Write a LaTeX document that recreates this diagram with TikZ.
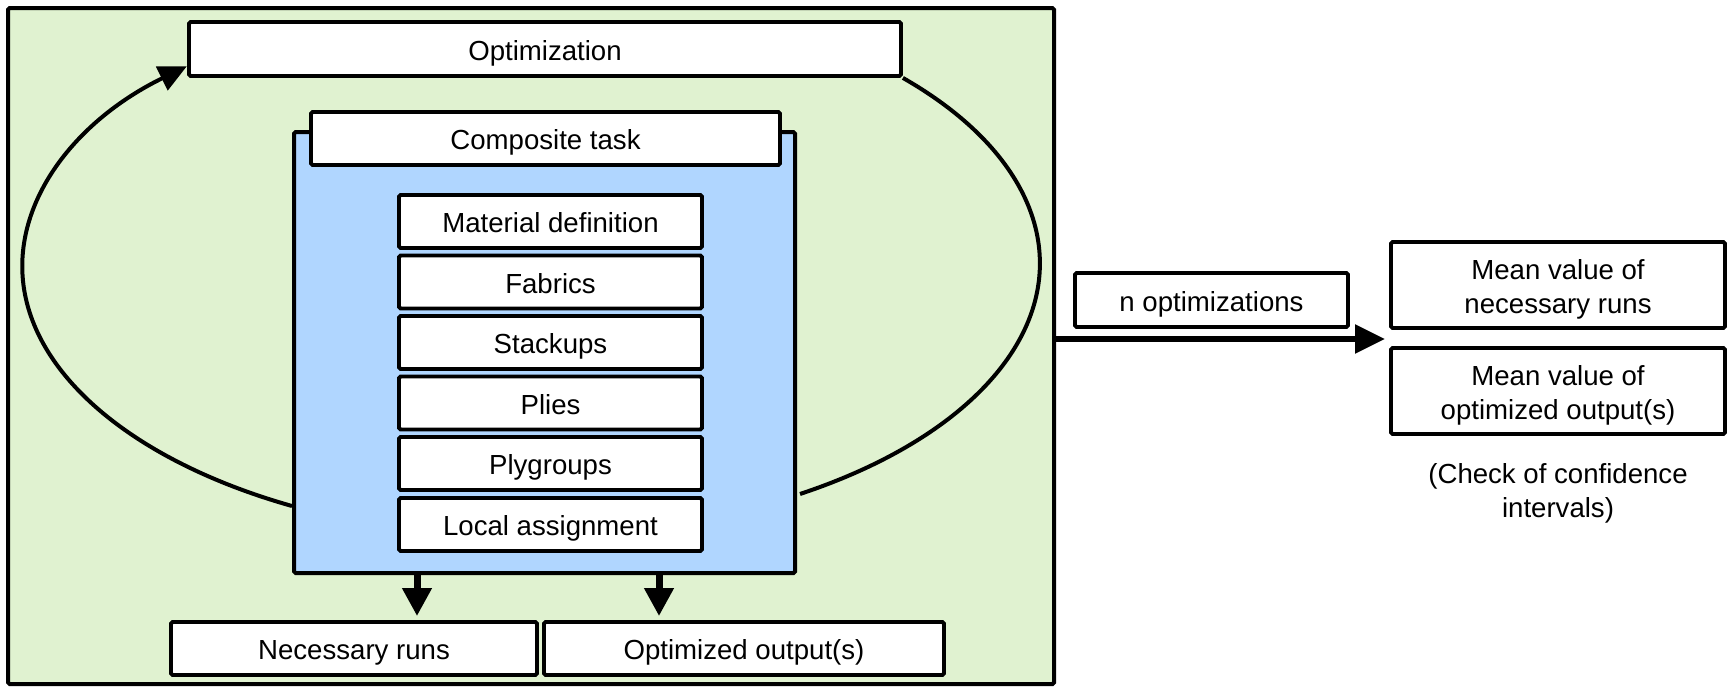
\documentclass[tikz,border=0pt]{standalone}
\usepackage{fontspec}
\setmainfont{Liberation Sans}
\usetikzlibrary{arrows.meta,calc}
\definecolor{outergreen}{RGB}{224,242,208}
\definecolor{taskblue}{RGB}{176,214,255}
\pgfdeclarelayer{back}
\pgfdeclarelayer{loop}
\pgfsetlayers{back,loop,main}
\tikzset{
  txt/.style={inner sep=0pt, font=\fontsize{13.8}{17}\selectfont, align=center},
  box/.style={txt, draw=black, line width=1.9pt, fill=white, rounded corners=0.8pt},
  oneline/.style={text height=11pt, text depth=0pt},
  twoline/.style={text height=28pt, text depth=0pt},
  frame/.style={draw=black, line width=2pt, rounded corners=0.8pt, inner sep=0pt},
  loopline/.style={line width=2pt},
  downtip/.style={-{Triangle[length=14pt,width=14pt]}, line width=3.5pt},
  righttip/.style={-{Triangle[length=15pt,width=14pt]}, line width=2.8pt},
}
\begin{document}
\begin{tikzpicture}[x=0.5pt,y=-0.5pt]
\useasboundingbox (0,0) rectangle (1727,687);

% outer frame of one optimization run
\begin{pgfonlayer}{back}
\node[frame, fill=outergreen, minimum width=523pt, minimum height=338pt] (outer) at (531,346) {};
\end{pgfonlayer}

\node[box, oneline, minimum width=356pt, minimum height=27pt] (opt) at (545,49) {Optimization};

% composite task with its steps
\node[frame, fill=taskblue, minimum width=250.5pt, minimum height=220.5pt] (task) at (544.5,352.5) {};
\node[box, oneline, minimum width=234.5pt, minimum height=26.5pt] (comp) at (545.5,138.5) {Composite task};
\foreach \nm/\lbl/\yy in {m1/Material definition/221.5, m2/Fabrics/282, m3/Stackups/342.5,
    m4/Plies/403, m5/Plygroups/463.5, m6/Local assignment/524.5}
  \node[box, oneline, minimum width=151.5pt, minimum height=26.5pt] (\nm) at (550.5,\yy) {\lbl};

% outputs of a run
\node[box, oneline, minimum width=183pt, minimum height=26.5pt] (nec) at (354,648.5) {Necessary runs};
\node[box, oneline, minimum width=200pt, minimum height=26.5pt] (optout) at (744,648.5) {Optimized output(s)};

% repeated optimizations and statistics
\node[box, oneline, minimum width=136.5pt, minimum height=27pt] (nopt) at (1211.5,300) {n optimizations};
\node[box, twoline, minimum width=167pt, minimum height=43pt] (mean1) at (1558,285) {Mean value of\\necessary runs};
\node[box, twoline, minimum width=167pt, minimum height=43pt] (mean2) at (1558,391) {Mean value of\\optimized output(s)};
\node[txt, twoline] (check) at (1558,489) {(Check of confidence\\intervals)};

% loop around the composite task
\begin{pgfonlayer}{loop}
\draw[loopline, -{Triangle[length=14pt,width=13pt]}]
  ($(task.south west)+(0,-69)$) arc[start angle=117.8, end angle=227.6, x radius=505.5, y radius=271];
\draw[loopline]
  (opt.south east) arc[start angle=-43.2, end angle=58.3, x radius=505.5, y radius=271];
\end{pgfonlayer}

% result arrows
\coordinate (dl) at (417,0);
\coordinate (dr) at (659,0);
\draw[downtip, shorten >=2pt] (task.south -| dl) -- (nec.north -| dl);
\draw[downtip, shorten >=2pt] (task.south -| dr) -- (optout.north -| dr);

\coordinate (meanin) at (1385,339);
\draw[righttip] (outer.east |- meanin) -- (meanin);
\end{tikzpicture}
\end{document}
